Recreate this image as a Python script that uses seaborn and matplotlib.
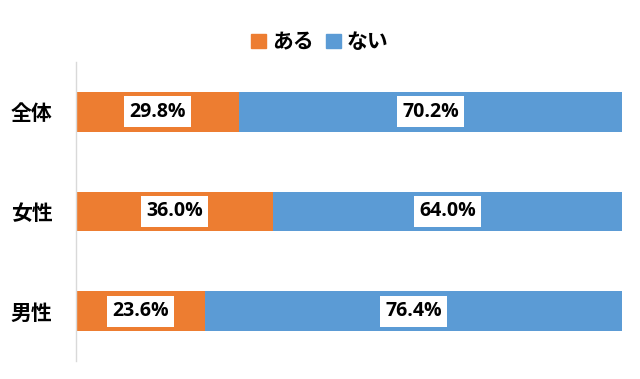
import pandas as pd
import seaborn as sns
import matplotlib.pyplot as plt
from matplotlib.patches import Patch

groups = ["全体", "女性", "男性"]
aru = [29.8, 36.0, 23.6]
nai = [70.2, 64.0, 76.4]

orange = "#ED7D31"
blue = "#5B9BD5"

sns.set_theme(style="white")
plt.rcParams['font.family'] = ['Noto Sans CJK JP', 'DejaVu Sans']

df = pd.DataFrame({"group": groups, "aru": aru, "nai": nai})
df["total"] = df["aru"] + df["nai"]

fig = plt.figure(figsize=(6.4, 3.79), dpi=100)
ax = fig.add_axes([0.119, 0.0475, 0.853, 0.789])

# stacked: full bar in blue, orange part drawn over it
sns.barplot(data=df, x="total", y="group", color=blue, width=0.4,
            orient="h", ax=ax, linewidth=0, saturation=1)
sns.barplot(data=df, x="aru", y="group", color=orange, width=0.4,
            orient="h", ax=ax, linewidth=0, saturation=1)

box = dict(boxstyle="square,pad=0.28", fc="white", ec="none")
for i, row in df.iterrows():
    ax.text(row["aru"] / 2, i, f"{row['aru']:.1f}%", ha="center", va="center",
            fontsize=14, fontweight="bold", family="Open Sans", color="black", bbox=box)
    ax.text(row["aru"] + row["nai"] / 2, i, f"{row['nai']:.1f}%", ha="center",
            va="center", fontsize=14, fontweight="bold", family="Open Sans",
            color="black", bbox=box)

ax.set_xlim(0, 100)
ax.set_xlabel("")
ax.set_ylabel("")
ax.set_xticks([])
ax.tick_params(axis="y", length=0, pad=17, labelsize=15, labelcolor="black")
for lab in ax.get_yticklabels():
    lab.set_fontweight("bold")
for s in ["top", "right", "bottom"]:
    ax.spines[s].set_visible(False)
ax.spines["left"].set_color("#D9D9D9")
ax.spines["left"].set_linewidth(1)

handles = [Patch(color=orange, label="ある"), Patch(color=blue, label="ない")]
fig.legend(handles=handles, loc="center", bbox_to_anchor=(0.5, 0.89), ncol=2,
           frameon=False, handlelength=0.7, handleheight=0.7, handletextpad=0.3,
           columnspacing=0.6, labelcolor="black",
           prop={"size": 15, "weight": "bold"})

fig.savefig("out.png", dpi=100)
